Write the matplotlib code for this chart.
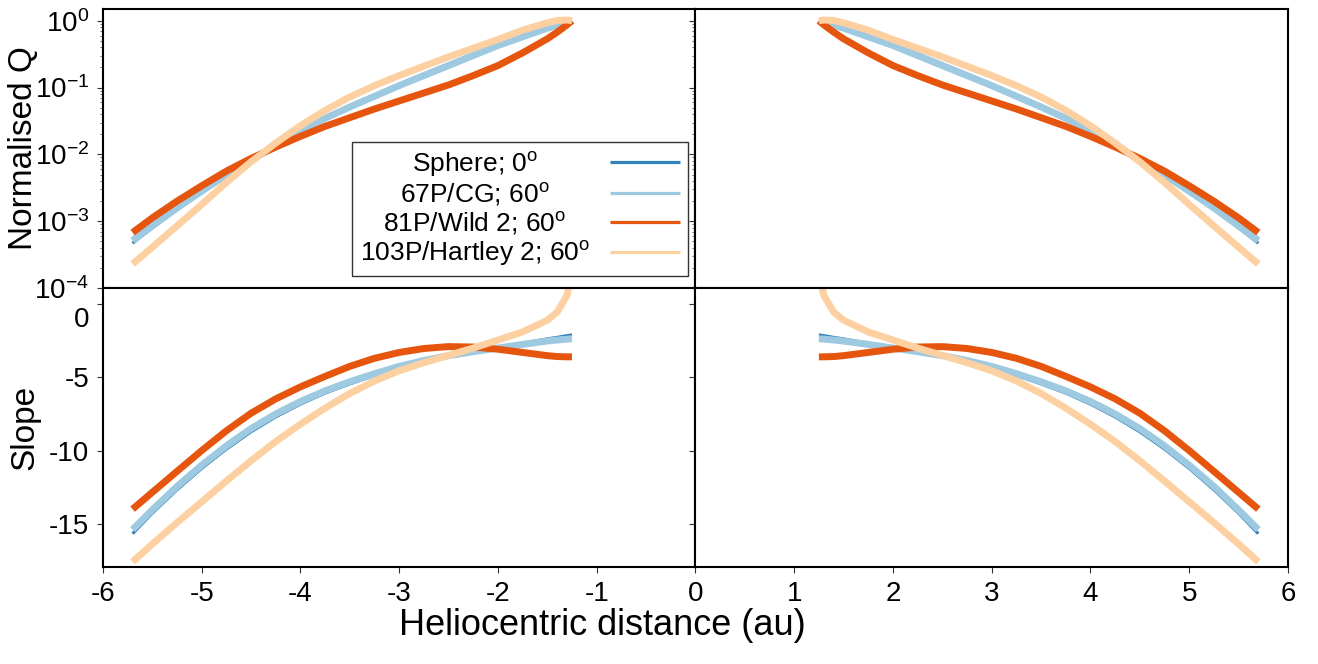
import numpy as np
import matplotlib
matplotlib.use('Agg')
import matplotlib.pyplot as plt
from matplotlib.transforms import ScaledTranslation

plt.rcParams['font.family'] = ['Liberation Sans', 'DejaVu Sans']
plt.rcParams['mathtext.fontset'] = 'custom'
plt.rcParams['mathtext.rm'] = 'Liberation Sans'
plt.rcParams['mathtext.it'] = 'Liberation Sans:italic'
plt.rcParams['mathtext.bf'] = 'Liberation Sans:bold'
plt.rcParams['axes.unicode_minus'] = False

# heliocentric distance (au) after perihelion; the pre-perihelion panels mirror it
r_au = [1.25, 1.3, 1.4, 1.5, 1.75, 2.0, 2.25, 2.5, 2.75, 3.0, 3.25, 3.5, 3.75,
        4.0, 4.25, 4.5, 4.75, 5.0, 5.25, 5.5, 5.7]

# log10 of normalised production rate
logq_sphere = [0.0, -0.025, -0.06, -0.095, -0.215, -0.345, -0.495, -0.645, -0.795, -0.95, -1.11,
               -1.27, -1.445, -1.63, -1.855, -2.09, -2.32, -2.57, -2.83, -3.10, -3.33]
logq_67p = [0.0, -0.03, -0.07, -0.11, -0.24, -0.37, -0.52, -0.67, -0.82, -0.97, -1.13,
            -1.29, -1.46, -1.64, -1.86, -2.09, -2.31, -2.55, -2.80, -3.07, -3.29]
logq_wild2 = [0.0, -0.06, -0.17, -0.27, -0.48, -0.67, -0.82, -0.96, -1.08, -1.20, -1.32,
              -1.45, -1.58, -1.73, -1.89, -2.06, -2.25, -2.47, -2.70, -2.95, -3.17]
logq_hartley = [0.0, 0.012, 0.005, -0.03, -0.14, -0.28, -0.41, -0.54, -0.68, -0.82, -0.97,
                -1.14, -1.34, -1.57, -1.83, -2.11, -2.42, -2.75, -3.07, -3.39, -3.64]

# slope d log Q / d log r
slope_sphere = [-2.1, -2.15, -2.27, -2.37, -2.67, -2.98, -3.3, -3.6, -3.95, -4.37, -4.88,
                -5.45, -6.08, -6.83, -7.7, -8.72, -9.9, -11.22, -12.68, -14.28, -15.68]
slope_67p = [-2.36, -2.39, -2.45, -2.52, -2.75, -3.0, -3.25, -3.52, -3.85, -4.25, -4.75,
             -5.3, -5.92, -6.65, -7.5, -8.5, -9.68, -11.0, -12.45, -14.05, -15.4]
slope_wild2 = [-3.6, -3.6, -3.58, -3.52, -3.3, -3.08, -2.93, -2.9, -3.03, -3.3, -3.7,
               -4.25, -4.93, -5.65, -6.47, -7.45, -8.65, -10.0, -11.42, -12.85, -14.0]
slope_hartley = [2.2, 0.6, -0.55, -1.1, -1.9, -2.45, -3.0, -3.5, -4.0, -4.55, -5.25,
                 -6.1, -7.1, -8.2, -9.38, -10.7, -12.08, -13.5, -14.92, -16.38, -17.6]

labels = ['Sphere; 0$^\\mathrm{o}$', '67P/CG; 60$^\\mathrm{o}$',
          '81P/Wild 2; 60$^\\mathrm{o}$', '103P/Hartley 2; 60$^\\mathrm{o}$']
colors = ['#3182bd', '#9ecae1', '#e6550d', '#fdd0a2']
widths = [2.2, 5, 5, 5]

r = np.array(r_au)
logq = [logq_sphere, logq_67p, logq_wild2, logq_hartley]
slopes = [slope_sphere, slope_67p, slope_wild2, slope_hartley]

fig, axes = plt.subplots(2, 2, figsize=(13.18, 6.64), dpi=100, sharey='row')
fig.subplots_adjust(left=0.0781, right=0.9772, top=0.9864, bottom=0.1461,
                    hspace=0, wspace=0)

for i in range(4):
    q = 10 ** np.array(logq[i])
    s = np.array(slopes[i])
    for ax, sign in [(axes[0, 0], -1), (axes[0, 1], 1)]:
        ax.plot(sign * r, q, color=colors[i], lw=widths[i], label=labels[i],
                solid_capstyle='butt')
    for ax, sign in [(axes[1, 0], -1), (axes[1, 1], 1)]:
        ax.plot(sign * r, s, color=colors[i], lw=widths[i], solid_capstyle='butt')

axes[0, 0].set_yscale('log')
axes[0, 0].set_ylim(1e-4, 1.5)
axes[1, 0].set_ylim(-17.95, 1.1)
axes[1, 0].set_yticks([-15, -10, -5, 0])

for ax in axes[:, 0]:
    ax.set_xlim(-6, 0)
for ax in axes[:, 1]:
    ax.set_xlim(0, 6)
axes[1, 0].set_xticks([-6, -5, -4, -3, -2, -1, 0])
axes[1, 1].set_xticks([1, 2, 3, 4, 5, 6])

for ax in axes.flat:
    for sp in ax.spines.values():
        sp.set_linewidth(1.5)
    ax.tick_params(which='major', direction='out', length=4, width=0.8,
                   labelsize=20, color='#333333')
    ax.tick_params(which='minor', direction='out', length=2, width=0.6, color='#555555')
    ax.tick_params(axis='y', which='both', pad=6)
    ax.tick_params(axis='x', which='both', pad=6)
for ax in axes[0, :]:
    ax.tick_params(axis='x', which='both', bottom=False, labelbottom=False)

axes[0, 0].set_ylabel('Normalised Q', fontsize=24)
axes[0, 0].yaxis.set_label_coords(-0.108, 0.5)
axes[1, 0].set_ylabel('Slope', fontsize=24)
axes[1, 0].yaxis.set_label_coords(-0.105, 0.5)
fig.text(0.457, 0.058, 'Heliocentric distance (au)', fontsize=26,
         ha='center', va='center')

leg = axes[0, 0].legend(loc='lower right', bbox_to_anchor=(0.987, 0.043),
                        borderaxespad=0, markerfirst=False, fontsize=19,
                        handlelength=2.65, handletextpad=0.75, labelspacing=0.08,
                        borderpad=0.3, fancybox=False, framealpha=1,
                        edgecolor='#333333')
leg.get_frame().set_linewidth(1.0)
for line in leg.get_lines():
    line.set_linewidth(2.3)

fig.canvas.draw()

# the "0" slope label sits a little lower, clear of the 10^-4 label
ax = axes[1, 0]
locs = list(ax.yaxis.get_majorticklocs())
tick0 = ax.yaxis.get_major_ticks()[locs.index(0)]
tick0.label1.set_transform(tick0.label1.get_transform()
                           + ScaledTranslation(0, -9 / 72, fig.dpi_scale_trans))

# centre the legend labels in their column
renderer = fig.canvas.get_renderer()
texts = leg.get_texts()
w = [t.get_window_extent(renderer).width for t in texts]
wmax = max(w)
for t, wi in zip(texts, w):
    t.set_x(-(wmax - wi) / 2)

fig.savefig('out.png', dpi=100)
